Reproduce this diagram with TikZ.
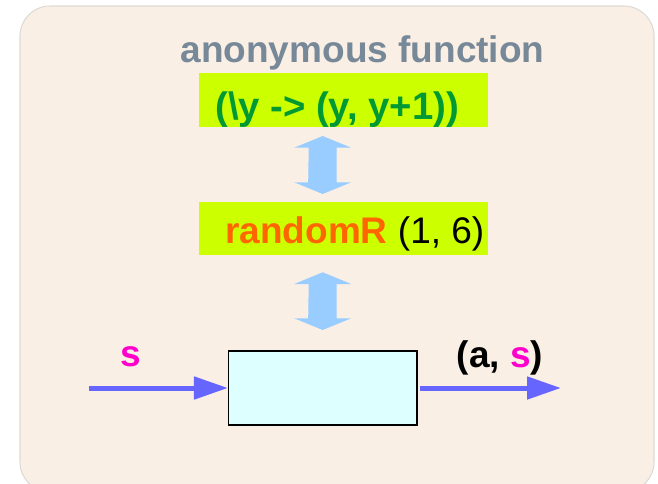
\documentclass[tikz,border=0pt]{standalone}
\usepackage{fontspec}
\setmainfont{Liberation Sans}
\usetikzlibrary{arrows.meta,calc}

\definecolor{panelfill}{HTML}{FAEFE5}
\definecolor{panelline}{HTML}{DDDAD6}
\definecolor{titlegray}{HTML}{778899}
\definecolor{limebox}{HTML}{CCFF00}
\definecolor{codegreen}{HTML}{009933}
\definecolor{fnorange}{HTML}{FF6600}
\definecolor{linkblue}{HTML}{99CCFF}
\definecolor{flowblue}{HTML}{6666FF}
\definecolor{statepink}{HTML}{FF00CC}
\definecolor{cellcyan}{HTML}{DDFFFF}

\tikzset{
  txt/.style={font=\fontsize{27.75pt}{30pt}\selectfont, inner sep=0pt, anchor=base west},
  limecell/.style={fill=limebox, draw=none, minimum width=289*0.75pt, minimum height=54*0.75pt, inner sep=0pt},
  funbox/.style={fill=cellcyan, draw=black, line width=0.8pt, minimum width=188.5*0.75pt, minimum height=74*0.75pt, inner sep=0pt},
  flow/.style={flowblue, line width=3.75pt, -{Triangle[length=25.5pt, width=16.5pt]}},
  linkarrow/.style={fill=linkblue, draw=none}
}

% vertical double-headed block arrow between two points (top, bottom)
\newcommand\vlink[2]{%
  \fill[linkarrow]
    ($#1$) -- ++(28.5,11.7) -- ++(-14.5,0) -- ($#2+(14,-11.7)$)
    -- ++(14.5,0) -- ($#2$) -- ++(-28.5,-11.7) -- ++(14,0)
    -- ($#1+(-14,11.7)$) -- ++(-14.5,0) -- cycle;}

\begin{document}
\begin{tikzpicture}[x=0.75pt, y=-0.75pt]
  \useasboundingbox (0,0) rectangle (658,483);

  % panel
  \begin{scope}
    \clip (0,0) rectangle (658,483);
    \draw[fill=panelfill, draw=panelline, line width=0.8pt, rounded corners=22.5pt]
      (20,6) rectangle (654,492);
  \end{scope}

  % title
  \node[txt, anchor=base, text=titlegray, font=\bfseries\fontsize{27.75pt}{30pt}\selectfont]
    (title) at (362.5,62) {anonymous function};

  % lambda cell
  \node[limecell] (lam) at (343.5,100) {};
  \node[txt, text=codegreen, font=\bfseries\fontsize{28.7pt}{31pt}\selectfont]
    (lamtext) at (215,119.5) {(\textbackslash y -> (y, y+1))};

  % randomR cell
  \node[limecell, minimum height=53*0.75pt] (rnd) at (343.5,228.5) {};
  \node[txt] (rndtext) at (225,243) {\textcolor{fnorange}{\bfseries randomR} (1, 6)};

  % function box
  \node[funbox] (fn) at (322.75,388) {};

  % links between the cells and the box
  \coordinate (l1top) at (322.7,136);
  \coordinate (l1bot) at (322.7,194);
  \coordinate (l2top) at (322.7,272.3);
  \coordinate (l2bot) at (322.7,330);
  \vlink{(l1top)}{(l1bot)}
  \vlink{(l2top)}{(l2bot)}

  % state flow
  \coordinate (in) at (89,388);
  \coordinate (out) at (561,388);
  \draw[flow] (in) -- (fn.west);
  \draw[flow] ($(fn.east)+(2.5,0)$) -- (out);

  % labels
  \node[txt, anchor=base, text=statepink, font=\bfseries\fontsize{27.75pt}{30pt}\selectfont]
    (slabel) at (131,366.5) {s};
  \node[txt, font=\bfseries\fontsize{27.75pt}{30pt}\selectfont]
    (pair) at (456.5,367) {(a, \textcolor{statepink}{s})};
\end{tikzpicture}
\end{document}
